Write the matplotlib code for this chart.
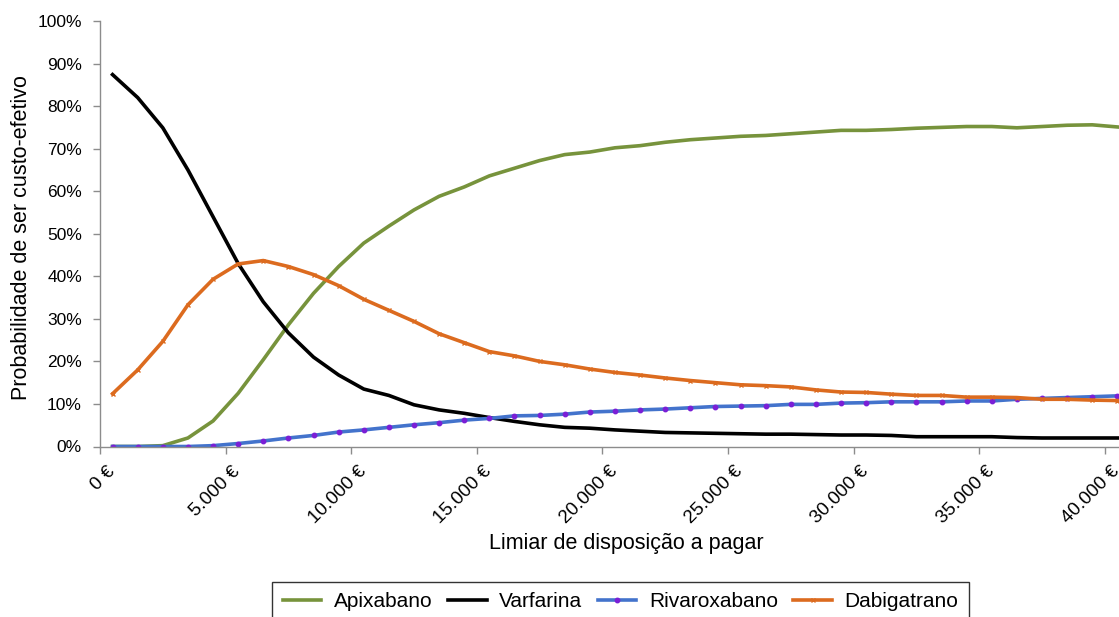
import matplotlib
matplotlib.use("Agg")
import matplotlib.pyplot as plt
import matplotlib.transforms as mtransforms
from matplotlib.ticker import FuncFormatter, MultipleLocator

plt.rcParams["font.family"] = ["Liberation Sans", "DejaVu Sans"]

# limiar (EUR), midpoints of 1000 EUR bins
limiar = [500 + 1000 * k for k in range(41)]

apixabano = [0.0, 0.0, 0.2, 2.0, 6.0, 12.5, 20.4, 28.6, 36.0, 42.3, 47.8,
             51.8, 55.6, 58.8, 61.0, 63.6, 65.4, 67.2, 68.6, 69.2, 70.2,
             70.7, 71.5, 72.1, 72.5, 72.9, 73.1, 73.5, 73.9, 74.3, 74.3,
             74.5, 74.8, 75.0, 75.2, 75.2, 74.9, 75.2, 75.5, 75.6, 75.1]
varfarina = [87.4, 82.0, 74.9, 65.0, 54.0, 43.0, 34.0, 26.7, 21.0, 16.8, 13.5,
             12.0, 9.8, 8.6, 7.8, 6.8, 5.9, 5.1, 4.5, 4.3, 3.9,
             3.6, 3.3, 3.2, 3.1, 3.0, 2.9, 2.9, 2.8, 2.7, 2.7,
             2.6, 2.3, 2.3, 2.3, 2.3, 2.1, 2.0, 2.0, 2.0, 2.0]
rivaroxabano = [0.0, 0.0, 0.0, 0.0, 0.2, 0.7, 1.3, 2.0, 2.6, 3.4, 3.9,
                4.5, 5.1, 5.6, 6.2, 6.6, 7.2, 7.3, 7.6, 8.1, 8.3,
                8.6, 8.8, 9.1, 9.4, 9.5, 9.6, 9.9, 9.9, 10.2, 10.3,
                10.5, 10.5, 10.5, 10.7, 10.7, 11.1, 11.3, 11.5, 11.7, 11.9]
dabigatrano = [12.4, 18.0, 24.7, 33.3, 39.3, 42.9, 43.7, 42.3, 40.4, 37.8, 34.6,
               32.0, 29.4, 26.5, 24.4, 22.3, 21.3, 20.0, 19.2, 18.2, 17.4,
               16.8, 16.1, 15.5, 15.0, 14.5, 14.3, 14.0, 13.3, 12.8, 12.7,
               12.3, 12.0, 12.0, 11.6, 11.6, 11.5, 11.1, 11.1, 10.9, 10.8]

GREEN = "#77933C"
BLUE = "#4373CC"
ORANGE = "#DC6B1F"
PURPLE = "#7A1FD6"
AXIS = "#8C8C8C"

fig = plt.figure(figsize=(11.19, 6.17), dpi=100)
ax = fig.add_axes([100 / 1119, 1 - 446.5 / 617, 1 - 100 / 1119, (446.5 - 21) / 617])

ax.plot(limiar, apixabano, color=GREEN, lw=2.6, label="Apixabano")
ax.plot(limiar, varfarina, color="black", lw=2.6, label="Varfarina")
ax.plot(limiar, rivaroxabano, color=BLUE, lw=2.6, marker="o", ms=3.2,
        mfc=PURPLE, mec=PURPLE, label="Rivaroxabano")
ax.plot(limiar, dabigatrano, color=ORANGE, lw=2.6, marker="x", ms=3.5,
        mew=1.0, mec=ORANGE, label="Dabigatrano")

ax.set_xlim(0, 40565)
ax.set_ylim(0, 100)
ax.yaxis.set_major_locator(MultipleLocator(10))
ax.yaxis.set_major_formatter(FuncFormatter(lambda v, p: f"{v:.0f}%"))
ax.xaxis.set_major_locator(MultipleLocator(5000))
ax.xaxis.set_major_formatter(
    FuncFormatter(lambda v, p: f"{v:,.0f} €".replace(",", ".")))

for s in ["top", "right"]:
    ax.spines[s].set_visible(False)
for s in ["left", "bottom"]:
    ax.spines[s].set_color(AXIS)
    ax.spines[s].set_linewidth(1.0)
ax.tick_params(axis="both", colors=AXIS, labelcolor="black",
               length=5, width=1.0, direction="out")
ax.tick_params(axis="y", pad=8, labelsize=12.5)
ax.tick_params(axis="x", pad=4, labelsize=13.5)
shift = mtransforms.ScaledTranslation(6 / 100, -4 / 100, fig.dpi_scale_trans)
for lab in ax.get_xticklabels():
    lab.set_rotation(45)
    lab.set_ha("right")
    lab.set_rotation_mode("anchor")
    lab.set_transform(lab.get_transform() + shift)

ax.set_ylabel("Probabilidade de ser custo-efetivo", fontsize=15.5)
ax.yaxis.set_label_coords(-68 / 1019, 0.49)
ax.set_xlabel("Limiar de disposição a pagar", fontsize=15.5)
ax.xaxis.set_label_coords(526 / 1019, -86 / 425.5)

leg = fig.legend(loc="upper center", bbox_to_anchor=(620.5 / 1119, 1 - 582 / 617),
                 borderaxespad=0, ncol=4, fontsize=15, frameon=True, fancybox=False,
                 handlelength=1.85, columnspacing=0.75, handletextpad=0.6,
                 borderpad=0.5)
leg.get_frame().set_edgecolor("black")
leg.get_frame().set_linewidth(1.0)

fig.savefig("out.png", dpi=100)
